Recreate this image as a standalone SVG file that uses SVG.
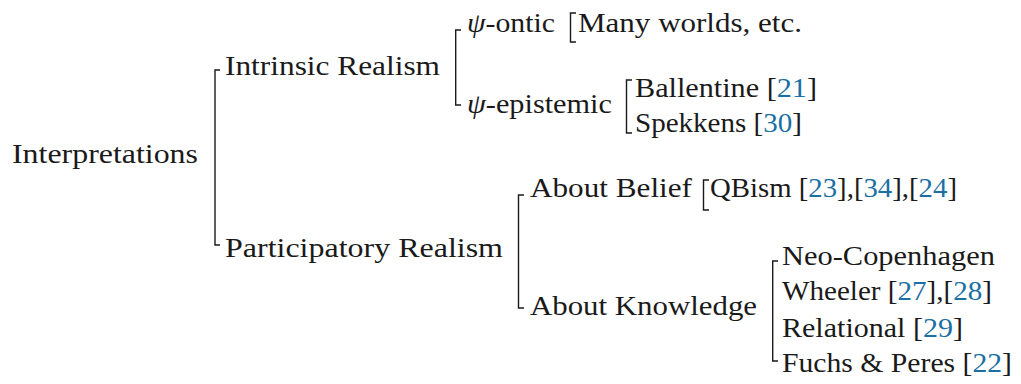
<svg xmlns="http://www.w3.org/2000/svg" width="1021" height="384" viewBox="0 0 1021 384">
<style>
.c{fill:#1b6fa3}
.br{fill:none;stroke:#1a1a1a;stroke-width:1.4}
</style>
<rect width="1021" height="384" fill="#ffffff"/>
<g id="connectors">
<path class="br" d="M220,70 H215 V245 H220"/>
<path class="br" d="M461,30 H455.7 V105 H461"/>
<path class="br" d="M576,13 H570.5 V42 H576"/>
<path class="br" d="M632,80 H626.5 V133 H632"/>
<path class="br" d="M524,195 H518.5 V308 H524"/>
<path class="br" d="M709,180 H703.5 V210 H709"/>
<path class="br" d="M778,261 H772.7 V361 H778"/>
</g>
<g id="n-interpretations"><text font-family="Liberation Serif" font-size="27" fill="#1a1a1a" x="12" y="163" textLength="186" lengthAdjust="spacingAndGlyphs">Interpretations</text></g>
<g id="n-intrinsic"><text font-family="Liberation Serif" font-size="27" fill="#1a1a1a" x="225" y="75" textLength="215" lengthAdjust="spacingAndGlyphs">Intrinsic Realism</text></g>
<g id="n-participatory"><text font-family="Liberation Serif" font-size="27" fill="#1a1a1a" x="225" y="257" textLength="278" lengthAdjust="spacingAndGlyphs">Participatory Realism</text></g>
<g id="n-ontic"><text font-family="Liberation Serif" font-size="27" fill="#1a1a1a" x="467" y="32" textLength="88" lengthAdjust="spacingAndGlyphs"><tspan font-style="italic">ψ</tspan>-ontic</text></g>
<g id="n-manyworlds"><text font-family="Liberation Serif" font-size="27" fill="#1a1a1a" x="578" y="32" textLength="224" lengthAdjust="spacingAndGlyphs">Many worlds, etc.</text></g>
<g id="n-epistemic"><text font-family="Liberation Serif" font-size="27" fill="#1a1a1a" x="467" y="113" textLength="145" lengthAdjust="spacingAndGlyphs"><tspan font-style="italic">ψ</tspan>-epistemic</text></g>
<g id="n-ballentine"><text font-family="Liberation Serif" font-size="27" fill="#1a1a1a" x="635" y="97" textLength="182" lengthAdjust="spacingAndGlyphs">Ballentine [<tspan class="c">21</tspan>]</text></g>
<g id="n-spekkens"><text font-family="Liberation Serif" font-size="27" fill="#1a1a1a" x="635" y="132" textLength="167" lengthAdjust="spacingAndGlyphs">Spekkens [<tspan class="c">30</tspan>]</text></g>
<g id="n-belief"><text font-family="Liberation Serif" font-size="27" fill="#1a1a1a" x="530" y="197" textLength="162" lengthAdjust="spacingAndGlyphs">About Belief</text></g>
<g id="n-qbism"><text font-family="Liberation Serif" font-size="27" fill="#1a1a1a" x="710" y="197" textLength="247" lengthAdjust="spacingAndGlyphs">QBism [<tspan class="c">23</tspan>],[<tspan class="c">34</tspan>],[<tspan class="c">24</tspan>]</text></g>
<g id="n-knowledge"><text font-family="Liberation Serif" font-size="27" fill="#1a1a1a" x="530" y="315" textLength="227" lengthAdjust="spacingAndGlyphs">About Knowledge</text></g>
<g id="n-neo"><text font-family="Liberation Serif" font-size="27" fill="#1a1a1a" x="782" y="265" textLength="213" lengthAdjust="spacingAndGlyphs">Neo-Copenhagen</text></g>
<g id="n-wheeler"><text font-family="Liberation Serif" font-size="27" fill="#1a1a1a" x="782" y="300" textLength="210" lengthAdjust="spacingAndGlyphs">Wheeler [<tspan class="c">27</tspan>],[<tspan class="c">28</tspan>]</text></g>
<g id="n-relational"><text font-family="Liberation Serif" font-size="27" fill="#1a1a1a" x="782" y="337" textLength="181" lengthAdjust="spacingAndGlyphs">Relational [<tspan class="c">29</tspan>]</text></g>
<g id="n-fuchs"><text font-family="Liberation Serif" font-size="27" fill="#1a1a1a" x="782" y="372" textLength="230" lengthAdjust="spacingAndGlyphs">Fuchs &amp; Peres [<tspan class="c">22</tspan>]</text></g>
</svg>
